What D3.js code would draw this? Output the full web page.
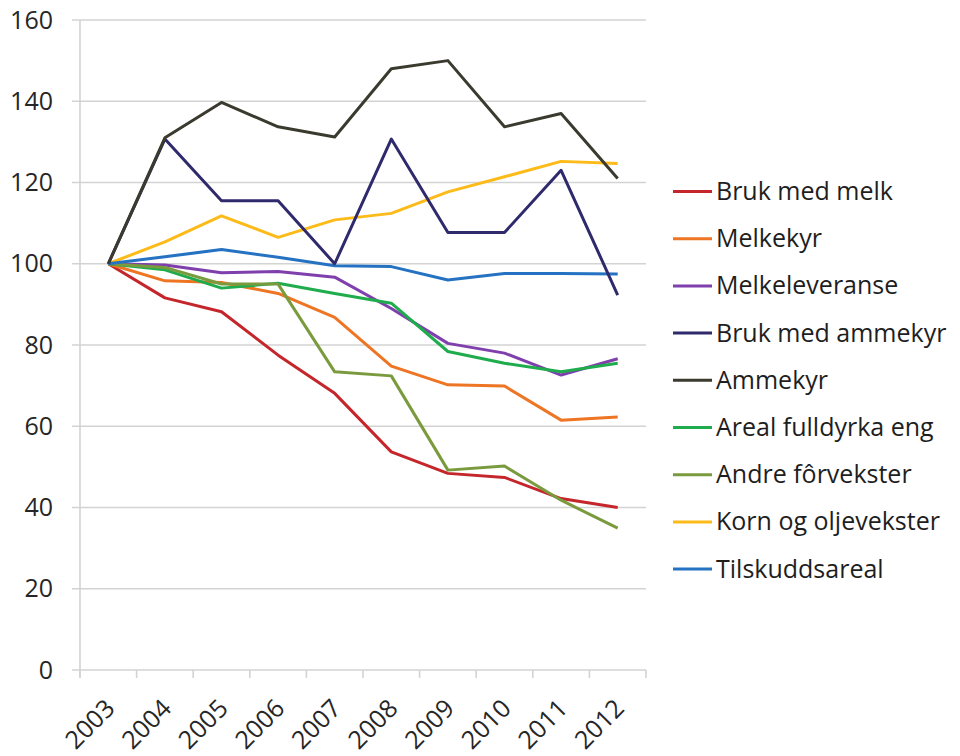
<!DOCTYPE html>
<html>
<head>
<meta charset="utf-8">
<script src="https://cdn.jsdelivr.net/npm/d3@7"></script>
<style>
  body { margin: 0; background: #fff; }
  svg { display: block; font-family: "Open Sans", Lato, sans-serif; }
</style>
</head>
<body>
<div id="chart"></div>
<script>
// data (index, 2003 = 100)
var years = ["2003", "2004", "2005", "2006", "2007", "2008", "2009", "2010", "2011", "2012"];

var brukMedMelk      = [100, 91.6, 88.2, 77.5, 68.1, 53.7, 48.4, 47.4, 42.2, 40.0];
var melkekyr         = [100, 95.8, 95.4, 92.7, 86.8, 74.8, 70.2, 69.9, 61.5, 62.3];
var melkeleveranse   = [100, 99.7, 97.8, 98.1, 96.7, 89.0, 80.4, 78.0, 72.6, 76.6];
var brukMedAmmekyr   = [100, 130.7, 115.5, 115.5, 100.0, 130.7, 107.7, 107.7, 123.0, 92.3];
var ammekyr          = [100, 131.0, 139.7, 133.7, 131.2, 148.0, 150.0, 133.7, 137.0, 121.0];
var arealFulldyrka   = [100, 98.5, 94.0, 95.2, 92.7, 90.3, 78.4, 75.5, 73.4, 75.5];
var andreForvekster  = [100, 99.1, 95.0, 95.0, 73.4, 72.4, 49.2, 50.2, 41.8, 34.9];
var kornOgOljevekster = [100, 105.4, 111.8, 106.5, 110.8, 112.4, 117.7, 121.4, 125.2, 124.7];
var tilskuddsareal   = [100, 101.7, 103.5, 101.6, 99.5, 99.3, 96.0, 97.6, 97.6, 97.5];

var seriesNames = ["Bruk med melk", "Melkekyr", "Melkeleveranse", "Bruk med ammekyr", "Ammekyr",
  "Areal fulldyrka eng", "Andre fôrvekster", "Korn og oljevekster", "Tilskuddsareal"];
var seriesValues = [brukMedMelk, melkekyr, melkeleveranse, brukMedAmmekyr, ammekyr,
  arealFulldyrka, andreForvekster, kornOgOljevekster, tilskuddsareal];
var seriesColors = ["#c4262b", "#ee7523", "#7f3fad", "#2f2a6b", "#3a3a2e",
  "#1fac4d", "#7a9a3e", "#fdbb1a", "#2472c1"];

var yTicks = [0, 20, 40, 60, 80, 100, 120, 140, 160];

(function() {
  var width = 960, height = 756;
  var margin = { top: 20, left: 80, right: 314, bottom: 86 };

  var svg = d3.select("#chart").append("svg")
    .attr("width", width)
    .attr("height", height);

  var x = d3.scaleBand()
    .domain(years)
    .range([margin.left, width - margin.right]);

  var y = d3.scaleLinear()
    .domain([0, 160])
    .range([height - margin.bottom, margin.top]);

  // gridlines
  svg.append("g")
    .selectAll("line")
    .data(yTicks)
    .enter().append("line")
    .attr("x1", margin.left - 8)
    .attr("x2", width - margin.right)
    .attr("y1", function(d) { return y(d); })
    .attr("y2", function(d) { return y(d); })
    .attr("stroke", "#d3d3d3")
    .attr("stroke-width", 1.6);

  // y axis line
  svg.append("line")
    .attr("x1", margin.left).attr("x2", margin.left)
    .attr("y1", margin.top).attr("y2", y(0) + 8)
    .attr("stroke", "#d3d3d3")
    .attr("stroke-width", 1.6);

  // y labels
  svg.append("g")
    .selectAll("text")
    .data(yTicks)
    .enter().append("text")
    .attr("x", margin.left - 27)
    .attr("y", function(d) { return y(d); })
    .attr("dy", "0.34em")
    .attr("text-anchor", "end")
    .attr("fill", "#262626")
    .style("font-size", "25px")
    .text(function(d) { return d; });

  // x tick marks at band edges
  var edges = years.map(function(d) { return x(d); }).concat([x(years[years.length - 1]) + x.bandwidth()]);
  svg.append("g")
    .selectAll("line")
    .data(edges)
    .enter().append("line")
    .attr("x1", function(d) { return d; })
    .attr("x2", function(d) { return d; })
    .attr("y1", y(0))
    .attr("y2", y(0) + 8)
    .attr("stroke", "#d3d3d3")
    .attr("stroke-width", 1.6);

  // x labels, rotated
  svg.append("g")
    .selectAll("text")
    .data(years)
    .enter().append("text")
    .attr("transform", function(d) {
      return "translate(" + (x(d) + x.bandwidth() / 2 + 8) + "," + (y(0) + 40) + ") rotate(-45)";
    })
    .attr("text-anchor", "end")
    .attr("fill", "#262626")
    .style("font-size", "25px")
    .text(function(d) { return d; });

  var line = d3.line()
    .x(function(d, i) { return x(years[i]) + x.bandwidth() / 2; })
    .y(function(d) { return y(d); });

  // draw in order so later series sit on top
  var drawOrder = [0, 1, 2, 5, 6, 7, 8, 3, 4];
  svg.append("g")
    .selectAll("path")
    .data(drawOrder)
    .enter().append("path")
    .attr("d", function(i) { return line(seriesValues[i]); })
    .attr("fill", "none")
    .attr("stroke", function(i) { return seriesColors[i]; })
    .attr("stroke-width", 3)
    .attr("stroke-linejoin", "round");

  // legend
  var legend = svg.append("g")
    .attr("transform", "translate(673,191.5)");

  var items = legend.selectAll("g")
    .data(seriesNames)
    .enter().append("g")
    .attr("transform", function(d, i) { return "translate(0," + (i * 47.2) + ")"; });

  items.append("line")
    .attr("x1", 0).attr("x2", 39)
    .attr("stroke", function(d, i) { return seriesColors[i]; })
    .attr("stroke-width", 3);

  items.append("text")
    .attr("x", 43)
    .attr("dy", "0.34em")
    .attr("fill", "#1e1e1e")
    .style("font-size", "25px")
    .text(function(d) { return d; });
})();
</script>
</body>
</html>
